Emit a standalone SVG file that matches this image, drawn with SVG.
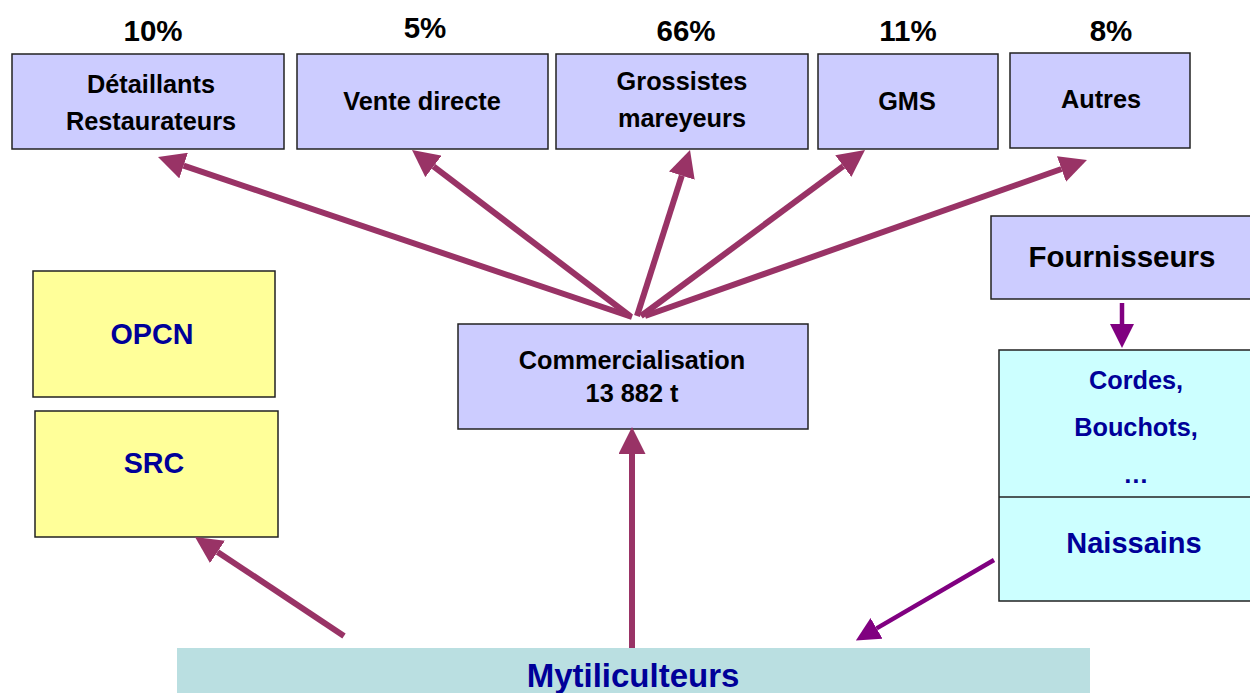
<svg xmlns="http://www.w3.org/2000/svg" width="1250" height="693" viewBox="0 0 1250 693">
<style>
text{font-family:"Liberation Sans",Arial,sans-serif;font-weight:bold;text-anchor:middle}
.lav{fill:#CCCCFF;stroke:#222;stroke-width:1.5}
.yel{fill:#FFFF99;stroke:#222;stroke-width:1.5}
.cyan{fill:#CCFFFF;stroke:#222;stroke-width:1.5}
.blk{fill:#000;font-size:25.3px}
.pct{fill:#000;font-size:29.5px}
.blue{fill:#000099}
.m{stroke:#993366;stroke-width:6;fill:none;marker-end:url(#hm)}
.p{stroke:#800080;stroke-width:4.5;fill:none;marker-end:url(#hp)}
</style>
<defs>
<marker id="hm" markerUnits="userSpaceOnUse" markerWidth="27" markerHeight="27" refX="0" refY="13.5" orient="auto"><path d="M0,0 L27,13.5 L0,27 z" fill="#993366"/></marker>
<marker id="hp" markerUnits="userSpaceOnUse" markerWidth="24" markerHeight="24" refX="0" refY="12" orient="auto"><path d="M0,0 L24,12 L0,24 z" fill="#800080"/></marker>
</defs>
<rect width="1250" height="693" fill="#fff"/>
<g id="pct">
<text class="pct" x="153" y="41">10%</text>
<text class="pct" x="425" y="38">5%</text>
<text class="pct" x="686" y="41">66%</text>
<text class="pct" x="908" y="41">11%</text>
<text class="pct" x="1111" y="41">8%</text>
</g>
<g id="detaillants"><rect class="lav" x="12" y="54" width="272" height="95"/><text class="blk" x="151" y="93">Détaillants</text><text class="blk" x="151" y="130">Restaurateurs</text></g>
<g id="vente"><rect class="lav" x="297" y="54" width="251" height="95"/><text class="blk" x="422" y="110">Vente directe</text></g>
<g id="grossistes"><rect class="lav" x="556" y="54" width="252" height="95"/><text class="blk" x="682" y="90">Grossistes</text><text class="blk" x="682" y="127">mareyeurs</text></g>
<g id="gms"><rect class="lav" x="818" y="54" width="180" height="95"/><text class="blk" x="907" y="110">GMS</text></g>
<g id="autres"><rect class="lav" x="1010" y="53" width="180" height="95"/><text class="blk" x="1101" y="108">Autres</text></g>
<g id="fournisseurs"><rect class="lav" x="991" y="216" width="265" height="83"/><text class="blk" x="1122" y="267" style="font-size:29.5px">Fournisseurs</text></g>
<g id="commercialisation"><rect class="lav" x="458" y="324" width="350" height="105"/><text class="blk" x="632" y="369">Commercialisation</text><text class="blk" x="632" y="402">13 882 t</text></g>
<g id="opcn"><rect class="yel" x="33" y="271" width="242" height="126"/><text class="blue" x="152" y="344" style="font-size:28.7px">OPCN</text></g>
<g id="src"><rect class="yel" x="35" y="411" width="243" height="126"/><text class="blue" x="154" y="473" style="font-size:28.7px">SRC</text></g>
<g id="cordes"><rect class="cyan" x="999" y="350" width="260" height="251"/><line x1="999" y1="497" x2="1250" y2="497" stroke="#222" stroke-width="1.5"/>
<text class="blue" x="1136" y="389" style="font-size:25.3px">Cordes,</text>
<text class="blue" x="1136" y="436" style="font-size:25.3px">Bouchots,</text>
<text class="blue" x="1136" y="483" style="font-size:25.3px">…</text>
<text class="blue" x="1134" y="553" style="font-size:29px">Naissains</text></g>
<g id="mytiliculteurs"><rect x="177" y="648" width="913" height="50" fill="#BADFE1"/><text class="blue" x="633" y="687" style="font-size:33px">Mytiliculteurs</text></g>
<g id="connectors">
<line class="m" x1="632" y1="317" x2="183.6" y2="165.6"/>
<line class="m" x1="630" y1="316" x2="433.5" y2="166.4"/>
<line class="m" x1="637" y1="316" x2="681.8" y2="175.7"/>
<line class="m" x1="641" y1="316" x2="843.3" y2="166.1"/>
<line class="m" x1="645" y1="316" x2="1061.5" y2="169"/>
<line class="m" x1="632" y1="648" x2="632" y2="454"/>
<line class="m" x1="344" y1="636" x2="217.5" y2="551.9"/>
<line class="p" x1="1122" y1="303" x2="1122" y2="324"/>
<line class="p" x1="994" y1="560" x2="876.6" y2="628.4"/>
</g>
</svg>
